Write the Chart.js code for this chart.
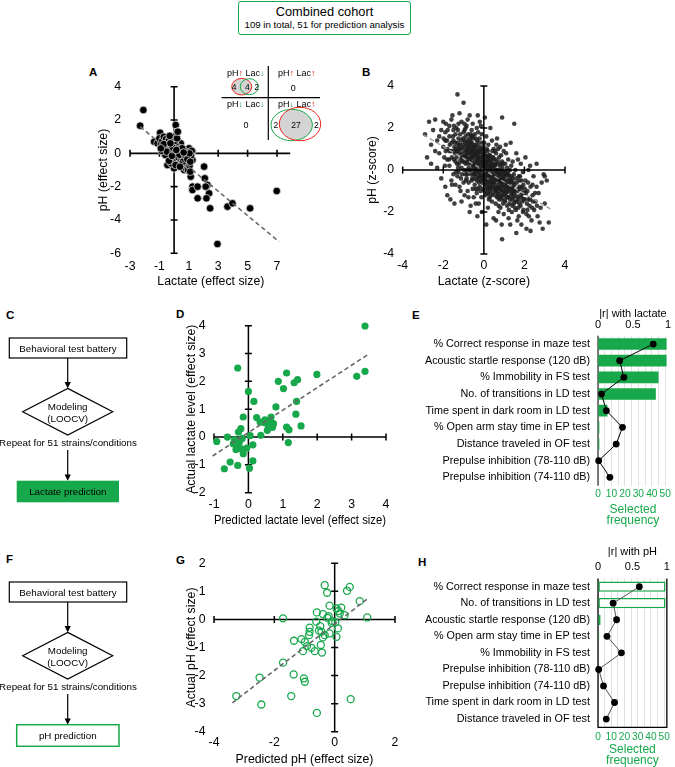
<!DOCTYPE html>
<html><head><meta charset="utf-8">
<title>Combined cohort</title>
<script src="https://cdn.jsdelivr.net/npm/chart.js@4.4.1/dist/chart.umd.min.js"></script>
<style>
html,body{margin:0;padding:0;background:#fff;}
body{width:675px;height:767px;position:relative;overflow:hidden;font-family:"Liberation Sans",Arial,Helvetica,sans-serif;color:#000;}
.pane{position:absolute;}
.pane canvas{display:block;}
.plabel{position:absolute;font-weight:bold;font-size:11.5px;line-height:12px;}
#titlebox{position:absolute;left:238px;top:1px;width:171px;height:32px;border:1.5px solid #17a84b;border-radius:3px;text-align:center;background:#fff;}
#titlebox .t1{font-size:12.8px;margin-top:3px;line-height:14px;}
#titlebox .t2{font-size:9.7px;line-height:12px;}
#overlay{position:absolute;left:0;top:0;pointer-events:none;}
</style></head><body>

<div id="titlebox"><div class="t1">Combined cohort</div><div class="t2">109 in total, 51 for prediction analysis</div></div>
<div class="plabel" style="left:89px;top:66px">A</div>
<div class="plabel" style="left:362px;top:66px">B</div>
<div class="plabel" style="left:6px;top:309px">C</div>
<div class="plabel" style="left:176px;top:308px">D</div>
<div class="plabel" style="left:412px;top:309px">E</div>
<div class="plabel" style="left:6px;top:553px">F</div>
<div class="plabel" style="left:176px;top:554px">G</div>
<div class="plabel" style="left:418px;top:556px">H</div>

<script>
// ---------------- DATA ----------------
// Panel A: lactate vs pH effect sizes (109 strains/conditions)
const pointsA = [
 [-2.09,2.6],[-2.31,1.66],[-1.36,0.7],[-0.95,1.24],[-1.13,0.6],[0.11,1.7],[0.23,1.3],[0.0,1.0],[0.45,0.6],[1.02,0.3],
 [1.25,0.1],[1.25,-0.4],[-0.45,-0.7],[0.0,-0.9],[0.68,-1.0],[1.13,-1.4],[1.25,-2.0],[1.25,-2.2],[1.6,-2.0],[1.6,-2.7],
 [2.04,-0.8],[2.09,-1.5],[2.27,-1.9],[2.15,-2.0],[2.38,-2.4],[2.2,-2.7],[2.45,-3.3],[3.63,-3.2],[3.97,-3.0],[5.17,-3.3],
 [6.98,-2.26],[2.95,-5.44],
 [-1.0,0.9],[-0.9,0.55],[-0.8,0.75],[-0.75,0.4],[-0.7,1.0],[-0.65,0.2],[-0.6,0.6],[-0.55,0.85],[-0.5,0.35],[-0.45,0.0],
 [-0.4,0.55],[-0.35,0.8],[-0.3,0.2],[-0.25,-0.2],[-0.2,0.45],[-0.15,0.1],[-0.1,0.7],[-0.05,-0.35],[0.0,0.25],[0.05,-0.1],
 [0.1,0.5],[0.15,-0.45],[0.2,0.05],[0.25,0.35],[0.3,-0.25],[0.35,-0.6],[0.4,0.0],[0.5,-0.4],[0.55,-0.1],[0.6,-0.75],
 [0.65,-0.3],[0.7,0.15],[0.75,-0.55],[0.8,-0.9],[0.85,-0.2],[0.9,-0.65],[0.95,-1.0],[1.0,-0.4],[1.05,-0.75],[1.1,-1.1],
 [1.15,-0.15],[1.2,0.15],[-0.45,-0.7],[-0.2,-0.6],[0.1,-0.7],[-0.6,-0.1],[-0.85,0.15],[-0.3,1.05],[0.2,0.9],[0.25,1.3],
 [-0.1,0.35],[0.3,0.25],[0.55,0.3],[0.6,-0.5],[-0.5,0.1],[0.35,-0.1],[0.75,-0.1],[0.9,-0.35],[1.05,0.0],[-0.7,0.55],
 [-0.35,-0.45],[0.4,-0.8],[-0.15,-0.15],[0.15,0.2],[-0.9,0.3],[0.65,0.05],[1.1,-0.5],[-0.25,0.6]
];
const fitA = [[-2.31,1.6],[7.14,-5.3]];
const xTicksA = [-3,-1,1,3,5,7];
const yTicksA = [4,2,0,-2,-4,-6];

// Panel B: individual animals, z-scores
const pointsB = [
 [-2.9,1.7],[-2.8,0.6],[-2.7,2.3],[-2.6,1.2],[-2.5,1.9],[-2.6,0.3],
 [-2.4,2.4],[-2.3,1.4],[-2.2,0.8],[-2.1,1.9],[-2.0,2.3],[-2.3,0.1],[-2.1,-0.4],[-2.0,1.1],[-2.4,0.9],[-2.2,1.6],
 [-1.9,1.8],[-1.8,0.5],[-1.7,2.1],[-1.6,1.3],[-1.5,-0.2],[-1.9,-0.8],[-1.8,1.0],[-1.7,0.2],[-1.6,2.4],[-1.5,0.9],
 [-1.9,1.4],[-1.8,-1.2],[-1.7,1.6],[-1.6,-0.5],[-1.5,1.9],[-1.95,0.6],[-1.65,-1.4],[-1.55,2.6],
 [-1.45,1.1],[-1.4,0.4],[-1.35,2.0],[-1.3,3.6],[-1.3,-0.3],[-1.25,1.5],[-1.2,0.8],[-1.15,-1.0],[-1.1,2.3],[-1.1,0.1],
 [-1.05,1.2],[-1.0,3.2],[-1.0,-0.6],[-1.45,-1.6],[-1.4,1.7],[-1.35,0.6],[-1.25,-0.1],[-1.2,2.7],[-1.15,1.0],[-1.05,0.4],
 [-1.0,1.8],[-1.3,1.3],[-1.2,-0.8],[-1.1,-1.5],[-1.4,-0.7],[-1.25,2.2],
 [-0.95,0.9],[-0.9,1.6],[-0.9,-0.2],[-0.85,2.1],[-0.8,0.5],[-0.8,-1.0],[-0.75,1.3],[-0.7,0.0],[-0.7,2.6],[-0.65,0.8],
 [-0.6,-0.5],[-0.6,1.9],[-0.55,0.3],[-0.5,1.1],[-0.5,-1.3],[-0.95,-1.2],[-0.9,0.3],[-0.85,1.2],[-0.8,2.4],[-0.75,-0.6],
 [-0.7,1.5],[-0.65,-1.7],[-0.6,0.6],[-0.55,2.2],[-0.5,-0.2],[-0.95,1.9],[-0.85,-0.4],[-0.75,0.8],[-0.65,1.7],[-0.55,-0.9],
 [-0.9,2.0],[-0.8,1.0],[-0.7,-2.0],[-0.6,1.3],[-0.52,0.6],
 [-0.45,0.7],[-0.45,-0.7],[-0.4,1.5],[-0.4,0.1],[-0.35,2.0],[-0.35,-1.1],[-0.3,0.9],[-0.3,-0.3],[-0.25,1.3],[-0.25,-1.6],
 [-0.2,0.4],[-0.2,2.3],[-0.15,-0.5],[-0.15,1.0],[-0.1,0.0],[-0.1,1.7],[-0.05,-0.9],[-0.05,0.6],[-0.48,1.2],[-0.42,-0.2],
 [-0.38,0.5],[-0.32,-2.2],[-0.28,1.8],[-0.22,-0.1],[-0.18,0.8],[-0.12,-1.3],[-0.08,1.3],[-0.02,0.2],[-0.3,2.6],[-0.2,-0.8],
 [-0.1,-2.0],[-0.4,-1.6],[-0.15,2.1],[-0.05,1.0],[-0.25,0.2],[-0.35,1.1],
 [0.02,-0.4],[0.05,0.9],[0.08,-1.2],[0.1,0.3],[0.12,1.6],[0.15,-0.7],[0.18,0.6],[0.2,-1.8],[0.22,1.2],[0.25,-0.2],
 [0.28,0.1],[0.3,-1.0],[0.32,2.0],[0.35,0.4],[0.38,-0.6],[0.4,-1.5],[0.42,0.9],[0.45,-0.3],[0.48,-2.3],[0.5,0.5],
 [0.05,2.5],[0.1,-0.1],[0.15,1.0],[0.2,0.0],[0.25,-1.4],[0.3,0.7],[0.35,-0.9],[0.4,1.4],[0.45,-0.8],[0.12,-2.6],
 [0.28,-0.5],[0.38,0.2],[0.02,1.3],[0.18,-0.9],[0.48,1.0],[0.08,0.5],
 [0.52,-0.9],[0.55,0.2],[0.58,-1.6],[0.6,0.8],[0.62,-0.4],[0.65,1.5],[0.68,-1.1],[0.7,0.0],[0.72,-2.0],[0.75,0.6],
 [0.78,-0.6],[0.8,1.1],[0.82,-1.3],[0.85,-0.1],[0.88,-2.6],[0.9,2.5],[0.9,0.4],[0.92,-0.8],[0.95,-1.6],[0.98,0.9],
 [0.55,-0.5],[0.6,-2.4],[0.65,-0.2],[0.7,1.0],[0.75,-1.4],[0.8,-0.3],[0.85,0.7],[0.9,-3.3],[0.95,-0.4],[0.58,0.5],
 [0.68,-0.8],[0.78,0.2],[0.88,-1.0],[0.98,-2.1],[0.62,1.2],[0.72,-0.5],[0.82,-1.8],[0.92,0.1],
 [1.02,-0.5],[1.05,0.3],[1.08,-1.2],[1.1,0.8],[1.12,-0.2],[1.15,-1.7],[1.18,-0.7],[1.2,0.5],[1.22,-2.3],[1.25,-1.0],
 [1.28,0.0],[1.3,-1.4],[1.32,1.3],[1.35,-0.5],[1.38,-2.0],[1.4,-0.9],[1.42,0.4],[1.45,-1.3],[1.48,-0.2],[1.05,-1.5],
 [1.1,-0.9],[1.15,0.1],[1.2,-1.3],[1.25,-0.3],[1.3,-2.6],[1.35,0.2],[1.4,-1.7],[1.45,-0.6],[1.5,2.2],[1.08,1.2],
 [1.18,-0.1],[1.28,-0.8],[1.38,-1.1],[1.48,-1.6],
 [1.52,-1.0],[1.55,0.0],[1.58,-1.9],[1.6,-3.0],[1.62,-0.6],[1.65,-1.3],[1.68,0.5],[1.7,-0.9],[1.72,-2.2],[1.75,-1.6],
 [1.78,-0.3],[1.8,-1.2],[1.82,0.3],[1.85,-2.6],[1.88,-0.8],[1.9,-1.5],[1.92,-0.1],[1.95,-1.9],[1.98,-1.1],[1.55,-1.5],
 [1.65,-2.4],[1.75,-0.5],[1.85,-1.3],[1.95,-0.7],[1.6,0.8],[1.7,-1.8],
 [2.02,-1.4],[2.05,-0.5],[2.1,-2.1],[2.15,-1.0],[2.2,0.0],[2.25,-1.7],[2.3,-0.8],[2.35,-2.4],[2.4,-1.2],[2.45,-0.3],
 [2.48,-1.9],[2.1,-2.8],[2.2,-1.4],[2.3,-2.9],[2.4,-0.7],[2.05,0.6],[2.15,-1.9],[2.28,0.2],
 [2.55,-1.5],[2.6,-0.8],[2.65,-2.2],[2.7,-1.1],[2.8,-1.8],[2.9,-2.8],[2.95,-0.2],[3.0,-1.6],[3.2,-2.5],[3.1,-0.5],
 [3.0,-0.3],[2.75,-2.5],[2.85,-0.6],[2.6,0.3],
 [-0.9,0.7],[-0.8,1.4],[-0.7,0.4],[-0.6,0.9],[-0.5,0.2],[-0.4,0.9],[-0.3,0.4],[-0.2,1.1],[-0.1,0.4],[0.0,0.8],
 [0.1,-0.5],[0.2,0.4],[0.3,-0.3],[0.4,0.6],[0.5,-0.6],[0.6,0.0],[0.7,-0.9],[0.8,-0.5],[0.9,-1.2],[1.0,-0.2],
 [-0.85,0.0],[-0.65,1.1],[-0.45,1.7],[-0.25,0.6],[-0.05,-0.3],[0.15,0.2],[0.35,-1.2],[0.55,0.9],[0.75,-0.2],[0.95,-0.6],
 [-1.1,0.6],[-0.95,1.4],[-0.75,0.1],[-0.55,1.5],[-0.35,-0.5],[-0.15,0.3],[0.05,-0.7],[0.25,0.7],[0.45,0.1],[0.65,-1.3],
 [0.85,0.3],[1.05,-1.1],[1.25,-0.6],[1.45,-1.0],[-1.3,0.9],[-1.5,1.4],[-1.7,0.9],[-0.3,-0.9],[0.2,-1.1],[0.6,-1.0],
 [-1.48,0.5],[-1.42,1.3],[-1.38,-0.1],[-1.33,0.9],[-1.28,1.9],[-1.23,0.3],[-1.18,1.2],[-1.13,-0.4],[-1.08,0.8],[-1.03,1.5],
 [-1.47,2.1],[-1.37,1.0],[-1.27,0.1],[-1.17,1.7],[-1.07,-0.2],[-1.02,0.6],[-1.12,1.4],[-1.22,1.0],[-1.32,0.3],[-1.42,0.8],
 [-0.98,0.4],[-0.93,1.1],[-0.88,-0.5],[-0.83,0.8],[-0.78,1.7],[-0.73,0.3],[-0.68,1.2],[-0.63,-0.2],[-0.58,0.7],[-0.53,1.6],
 [-0.97,0.0],[-0.92,1.3],[-0.87,0.6],[-0.82,-0.2],[-0.77,1.1],[-0.72,0.6],[-0.67,0.0],[-0.62,1.6],[-0.57,-0.4],[-0.52,0.9],
 [-0.96,2.2],[-0.86,0.9],[-0.76,-1.3],[-0.66,0.4],[-0.56,1.0],
 [-0.49,0.0],[-0.46,1.0],[-0.43,0.3],[-0.41,-0.9],[-0.37,0.7],[-0.34,1.4],[-0.31,-0.1],[-0.27,0.5],[-0.24,-0.6],[-0.21,1.5],
 [-0.17,0.1],[-0.14,-0.3],[-0.11,0.9],[-0.07,-0.6],[-0.04,0.3],[-0.01,1.1],[-0.47,0.4],[-0.44,-0.4],[-0.36,0.0],[-0.29,0.6],
 [-0.26,-0.4],[-0.19,-0.3],[-0.13,0.6],[-0.09,-0.4],[-0.03,0.7],[-0.33,0.8],[-0.23,0.9],[-0.16,-1.0],[-0.06,0.1],[-0.39,1.2],
 [0.01,0.1],[0.04,-0.2],[0.07,0.7],[0.11,-0.3],[0.14,0.4],[0.17,-1.1],[0.21,0.2],[0.24,-0.6],[0.27,0.5],[0.31,-0.8],
 [0.34,0.0],[0.37,-0.4],[0.41,0.3],[0.44,-1.1],[0.47,-0.1],[0.03,-1.0],[0.09,0.1],[0.13,-0.6],[0.19,0.9],[0.23,-0.3],
 [0.29,-1.3],[0.33,0.5],[0.39,-0.2],[0.43,-0.6],[0.49,0.2],[0.06,0.4],[0.16,-0.2],[0.26,0.3],[0.36,-0.7],[0.46,0.6],
 [0.51,-0.3],[0.54,-1.2],[0.57,0.0],[0.61,-0.7],[0.64,0.3],[0.67,-0.4],[0.71,-1.3],[0.74,-0.1],[0.77,-0.9],[0.81,0.0],
 [0.84,-0.7],[0.87,-1.4],[0.91,-0.4],[0.94,0.3],[0.97,-1.0],[0.53,0.3],[0.59,-1.0],[0.63,-0.1],[0.69,0.4],[0.73,-1.7],
 [0.79,-0.8],[0.83,-0.2],[0.89,-0.6],[0.93,-1.2],[0.99,-0.1],
 [1.01,-0.8],[1.04,-1.4],[1.07,-0.3],[1.11,-1.0],[1.14,-0.5],[1.17,-1.3],[1.21,-0.2],[1.24,-0.8],[1.27,-1.6],[1.31,-0.6],
 [1.34,-1.2],[1.37,-0.3],[1.41,-1.4],[1.44,-0.8],[1.47,-1.1],[1.03,-0.1],[1.13,-0.8],[1.23,-1.9],[1.33,-0.9],[1.43,-0.4],
 [1.51,-0.7],[1.56,-1.2],[1.61,-0.4],[1.66,-1.0],[1.71,-1.4],[1.76,-0.8],[1.81,-1.7],[1.86,-0.5],[1.91,-1.1],[1.96,-1.4],
 [1.53,-1.8],[1.63,-1.5],[1.73,-0.3],[1.83,-0.9],[1.93,-2.0],
 [-1.98,1.5],[-1.88,0.9],[-1.78,1.9],[-1.68,1.2],[-1.58,0.6],[-1.52,1.6],[-1.62,0.9],[-1.72,0.5],[-1.82,1.4],[-1.92,0.2],
 [-1.57,-0.7],[-1.87,2.2],
 [2.08,-1.1],[2.18,-0.6],[2.28,-1.4],[2.38,-1.8],[2.12,-1.6],[2.22,-2.2],[2.42,-1.5],[2.52,-1.1],[2.62,-1.7],[2.02,-0.9],
 [-1.16,0.45],[-1.06,1.05],[-0.94,0.65],[-0.84,0.35],[-0.74,0.95],[-0.64,0.55],[-0.54,0.15],[-0.44,0.75],[-0.34,0.25],[-0.24,0.85],
 [-0.14,-0.15],[-0.04,0.45],[0.06,-0.45],[0.16,0.65],[0.26,-0.85],[0.36,0.15],[0.46,-0.45],[0.56,-0.85],[0.66,-0.05],[0.76,-0.45],
 [0.86,-0.95],[0.96,-0.25],[1.06,-0.65],[1.16,-1.05],[1.26,-0.45],[-1.26,1.15],[-0.66,1.35],[-0.46,-0.15],[0.14,-0.85],[0.74,-1.15]
];
const fitB = [[-2.98,1.67],[3.36,-1.9]];
const xTicksB = [-4,-2,0,2,4];
const yTicksB = [4,2,0,-2,-4];

// Panel D: predicted vs actual lactate (51 strains/conditions)
const pointsD = [
 [3.39,3.99],[3.39,2.36],[3.15,2.18],[1.99,2.25],[1.11,2.30],[0.87,2.0],[1.02,1.74],[1.33,1.95],[1.43,2.06],[-0.31,2.48],
 [0,1.64],[0.16,1.28],[1.40,1.28],[0.80,1.08],[1.38,0.82],[1.53,0.40],[1.11,0.36],[1.18,0.26],[1.16,-0.20],[-0.15,0.72],
 [0.24,0.70],[0.34,0.54],[0.48,0.62],[0.63,0.60],[0.73,0.48],[0.58,0.38],[0.55,0.24],[0.36,0.06],[-0.22,0.30],[-0.29,0.18],
 [-0.61,0.0],[-0.92,-0.16],[-0.44,-0.24],[-0.34,-0.30],[-0.26,-0.18],[-0.22,-0.42],[-0.15,-0.60],[-0.05,-0.40],[0.13,-0.28],[-0.53,-0.90],
 [-0.31,-1.02],[-0.70,-1.14],[0.03,-1.12],[0.13,-0.86],[-0.40,-0.10],[0.66,0.72],[-0.18,-0.05],[0.45,0.52],[-0.36,-0.45],[0.05,0.05],
 [0.70,0.35]
];
const fitD = [[-1.04,-0.68],[3.52,3.0]];
const xTicksD = [-1,0,1,2,3,4];
const yTicksD = [4,3,2,1,0,-1,-2];

// Panel G: predicted vs actual pH (51 strains/conditions)
const pointsG = [
 [-0.33,1.22],[-0.25,0.95],[0.41,1.02],[0.50,1.16],[0.83,0.65],[1.08,0.07],[-0.17,0.49],[-0.59,0.25],[-0.39,0.19],[0.06,0.39],
 [0.22,0.42],[0.17,0.21],[0.33,0.15],[-0.24,0.06],[-0.08,-0.06],[-0.61,-0.08],[-0.48,-0.24],[0.11,-0.32],[-0.83,-0.29],[-0.83,-0.44],
 [-0.85,-0.56],[-0.44,-0.44],[-0.33,-0.56],[-0.39,-0.64],[-0.17,-0.50],[0.06,-0.62],[-1.71,0.04],[-1.10,-0.70],[-0.99,-0.80],[-1.35,-0.76],
 [-0.92,-0.95],[-0.77,-1.01],[-1.05,-1.13],[-0.66,-1.13],[-0.46,-0.91],[-0.42,-1.18],[-1.71,-1.54],[-1.36,-1.96],[-1.02,-2.10],[-0.99,-2.22],
 [-2.49,-2.07],[-3.26,-2.73],[-2.43,-3.03],[-1.44,-2.73],[-0.59,-3.33],[0.53,-2.84],[-0.10,-0.12],[0.02,-0.10],[-0.52,-0.40],[0.12,0.30],
 [-0.20,0.12]
];
const fitG = [[-3.39,-2.97],[1.14,0.78]];
const xTicksG = [-4,-2,0,2];
const yTicksG = [2,1,0,-1,-2,-3,-4];

// Panel E: behavioural features for lactate prediction
const labelsE = ['% Correct response in maze test','Acoustic startle response (120 dB)','% Immobility in FS test',
 'No. of transitions in LD test','Time spent in dark room in LD test','% Open arm stay time in EP test',
 'Distance traveled in OF test','Prepulse inhibition (78-110 dB)','Prepulse inhibition (74-110 dB)'];
const freqE = [51,51,45,43,7,1,1,0,0];
const rE = [0.79,0.31,0.37,0.05,0.12,0.35,0.26,0.01,0.17];

// Panel H: behavioural features for pH prediction
const labelsH = ['% Correct response in maze test','No. of transitions in LD test','Acoustic startle response (120 dB)',
 '% Open arm stay time in EP test','% Immobility in FS test','Prepulse inhibition (78-110 dB)',
 'Prepulse inhibition (74-110 dB)','Time spent in dark room in LD test','Distance traveled in OF test'];
const freqH = [51,51,2,1,0,0,0,0,0];
const rH = [0.60,0.22,0.27,0.13,0.34,0.01,0.08,0.24,0.12];

const rTicks = [0,0.5,1];
const freqTicks = [0,5,10,15,20,25,30,35,40,45,50];

// ---------------- DRAWING ----------------
const GREEN = '#17a84b';
const FONT = '"Liberation Sans", Arial, Helvetica, sans-serif';
Chart.defaults.font.family = FONT;
Chart.defaults.color = '#000';

function pane(left, top, w, h){
  const d = document.createElement('div');
  d.className = 'pane';
  d.style.cssText = 'left:'+left+'px;top:'+top+'px;width:'+w+'px;height:'+h+'px;';
  const c = document.createElement('canvas');
  d.appendChild(c);
  document.body.appendChild(d);
  return c;
}

function makeCross(cfg){
  const draw = function(chart){
    const ctx = chart.ctx, xs = chart.scales.x, ys = chart.scales.y;
    const X = v => xs.getPixelForValue(v), Y = v => ys.getPixelForValue(v);
    ctx.save();
    ctx.strokeStyle = '#000'; ctx.lineWidth = cfg.lw; ctx.lineCap = 'butt';
    ctx.beginPath();
    ctx.moveTo(X(cfg.xFrom), Y(0)); ctx.lineTo(X(cfg.xTo), Y(0));
    ctx.moveTo(X(0), Y(cfg.yFrom)); ctx.lineTo(X(0), Y(cfg.yTo));
    cfg.xMarks.forEach(v => { ctx.moveTo(X(v), Y(0)-cfg.tl); ctx.lineTo(X(v), Y(0)+cfg.tl); });
    cfg.yMarks.forEach(v => { ctx.moveTo(X(0)-cfg.tl, Y(v)); ctx.lineTo(X(0)+cfg.tl, Y(v)); });
    ctx.stroke();
    ctx.restore();
  };
  const p = {id:'crossAxes'};
  if (cfg.onTop) p.afterDatasetsDraw = draw; else p.beforeDatasetsDraw = draw;
  return p;
}

function makeFrame(cfg){
  return {id:'frame', beforeDatasetsDraw(chart){
    const a = chart.chartArea, c = chart.ctx;
    c.save(); c.strokeStyle = '#000'; c.lineWidth = cfg.lw; c.beginPath();
    if (cfg.left){ c.moveTo(a.left, a.top); c.lineTo(a.left, a.bottom); }
    if (cfg.right){ c.moveTo(a.right, a.top); c.lineTo(a.right, a.bottom); }
    if (cfg.bottom){ c.moveTo(a.left-cfg.lw/2, a.bottom); c.lineTo(a.right+cfg.lw/2, a.bottom); }
    c.stroke(); c.restore();
  }};
}

function scatterPanel(p){
  const cv = pane(p.left, p.top, p.w, p.h);
  const f = {size:12.3, family:FONT};
  return new Chart(cv, {
    type:'scatter',
    data:{datasets:[
      {type:'line', data:p.fit.map(a => ({x:a[0], y:a[1]})), borderColor:p.fitColor, borderWidth:p.fitWidth,
       borderDash:[4.5,3], pointRadius:0, fill:false, clip:false},
      {type:'scatter', data:p.pts.map(a => ({x:a[0], y:a[1]})), pointRadius:p.r, pointHoverRadius:p.r,
       backgroundColor:p.fill, borderColor:p.stroke, borderWidth:p.bw, clip:false}
    ]},
    options:{
      responsive:true, maintainAspectRatio:false, animation:false, events:[],
      layout:{padding:{top:p.padTop, right:p.padRight, left:0, bottom:0}},
      plugins:{legend:{display:false}, tooltip:{enabled:false}},
      scales:{
        x:{type:'linear', min:p.xr[0], max:p.xr[1],
          grid:{display:false, drawTicks:false}, border:{display:false},
          afterBuildTicks:s => { s.ticks = p.xTicks.map(v => ({value:v})); },
          afterFit:s => { s.height = p.xH; },
          ticks:{font:f, color:'#000', padding:p.xTickPad, maxRotation:0, minRotation:0, autoSkip:false, callback:v => String(v)},
          title:{display:true, text:p.xTitle, font:f, color:'#000', padding:{top:0, bottom:p.xTitlePad}}},
        y:{type:'linear', min:p.yr[0], max:p.yr[1],
          grid:{display:false, drawTicks:false}, border:{display:false},
          afterBuildTicks:s => { s.ticks = p.yTicks.map(v => ({value:v})); },
          afterFit:s => { s.width = p.yW; },
          ticks:{font:f, color:'#000', padding:p.yTickPad, autoSkip:false, callback:v => String(v)},
          title:{display:true, text:p.yTitle, font:f, color:'#000', padding:{top:p.yTitlePad, bottom:0}}}
      }
    },
    plugins:[makeCross(p.cross)]
  });
}

function barPanel(p){
  const cv = pane(415, p.top, 260, 227);
  return new Chart(cv, {
    type:'bar',
    data:{labels:p.labels, datasets:[
      {type:'line', data:p.r, xAxisID:'xTop', yAxisID:'y', indexAxis:'y', borderColor:p.lineColor, borderWidth:1,
       pointRadius:3.4, pointHoverRadius:3.4, pointBackgroundColor:'#000', pointBorderColor:'#000', pointBorderWidth:0,
       fill:false, tension:0, clip:false},
      {type:'bar', data:p.freq, xAxisID:'x', yAxisID:'y', backgroundColor:p.barFill, borderColor:GREEN,
       borderWidth:ctx => (ctx.raw > 0 ? p.barBW : 0), borderSkipped:false, barPercentage:p.bp, categoryPercentage:1}
    ]},
    options:{
      indexAxis:'y', responsive:true, maintainAspectRatio:false, animation:false, events:[],
      layout:{padding:{top:0, right:5, left:0, bottom:0}},
      plugins:{legend:{display:false}, tooltip:{enabled:false}},
      scales:{
        y:{type:'category', axis:'y', position:'left', offset:true, grid:{display:false, drawTicks:false}, border:{display:false},
          ticks:{font:{size:10.8, family:FONT}, color:'#000', padding:8, autoSkip:false},
          afterFit:s => { s.width = 183; }},
        x:{type:'linear', axis:'x', position:'bottom', min:0, max:52,
          afterBuildTicks:s => { s.ticks = freqTicks.map(v => ({value:v})); },
          grid:{color:'#d9d9d9', lineWidth:0.8, drawTicks:false}, border:{display:false},
          ticks:{font:{size:10.2, family:FONT}, color:GREEN, padding:p.btPad, autoSkip:false, maxRotation:0,
            callback:v => (v % 10 === 0 ? String(v) : '')},
          title:{display:true, text:['Selected','frequency'], color:GREEN, font:{size:12, family:FONT, lineHeight:0.96},
            padding:{top:0, bottom:0.3}},
          afterFit:s => { s.height = p.bH; }},
        xTop:{type:'linear', axis:'x', position:'top', min:0, max:1,
          afterBuildTicks:s => { s.ticks = rTicks.map(v => ({value:v})); },
          grid:{display:false, drawTicks:false}, border:{display:false},
          ticks:{font:{size:11, family:FONT}, color:'#000', padding:p.ttPad, autoSkip:false, maxRotation:0, callback:v => String(v)},
          title:{display:true, text:p.rTitle, color:'#000', font:{size:11, family:FONT}, padding:{top:p.tTitlePad, bottom:0}},
          afterFit:s => { s.height = p.tH; }}
      }
    },
    plugins:[makeFrame(p.frame)]
  });
}

// A
scatterPanel({left:85, top:60, w:240, h:240, padTop:26.7, padRight:33.3, xH:46.7, yW:45,
  xr:[-3,8], yr:[-6,4], xTicks:xTicksA, yTicks:yTicksA,
  xTickPad:6, xTitlePad:10.9, yTickPad:9, yTitlePad:10.9,
  xTitle:'Lactate (effect size)', yTitle:'pH (effect size)',
  pts:pointsA, fit:fitA, fitColor:'#6b6b6b', fitWidth:1.6,
  r:3.8, fill:'#000', stroke:'rgba(235,235,235,0.9)', bw:0.8,
  cross:{onTop:false, lw:1.6, tl:3.5, xFrom:-3, xTo:7.9, yFrom:-6, yTo:4, xMarks:[-3,-1,1,3,5,7], yMarks:[4,2,-2,-4,-6]}});

// B
scatterPanel({left:360, top:60, w:230, h:240, padTop:26, padRight:25, xH:46, yW:42.7,
  xr:[-4,4], yr:[-4,4], xTicks:xTicksB, yTicks:yTicksB,
  xTickPad:4.6, xTitlePad:10.6, yTickPad:8.5, yTitlePad:5.6,
  xTitle:'Lactate (z-score)', yTitle:'pH (z-score)',
  pts:pointsB, fit:fitB, fitColor:'#a0a0a0', fitWidth:1.4,
  r:2.3, fill:'rgba(30,30,30,0.85)', stroke:'rgba(0,0,0,0)', bw:0,
  cross:{onTop:true, lw:1.5, tl:3.5, xFrom:-4, xTo:4, yFrom:-4, yTo:4, xMarks:[-4,-2,2,4], yMarks:[4,2,-2,-4]}});

// D
scatterPanel({left:183, top:300, w:220, h:230, padTop:25.7, padRight:17, xH:37.3, yW:31,
  xr:[-1,4], yr:[-2,4], xTicks:xTicksD, yTicks:yTicksD,
  xTickPad:5, xTitlePad:1.6, yTickPad:8.5, yTitlePad:1.3,
  xTitle:'Predicted lactate level (effect size)', yTitle:'Actual lactate level (effect size)',
  pts:pointsD, fit:fitD, fitColor:'#666666', fitWidth:1.6,
  r:3.6, fill:GREEN, stroke:GREEN, bw:0,
  cross:{onTop:false, lw:1.5, tl:3.5, xFrom:-1, xTo:4, yFrom:-2, yTo:4, xMarks:[-1,1,2,3,4], yMarks:[4,3,2,1,-1,-2]}});

// G
scatterPanel({left:183, top:540, w:220, h:227, padTop:23.3, padRight:8, xH:35.3, yW:31,
  xr:[-4,2], yr:[-4,2], xTicks:xTicksG, yTicks:yTicksG,
  xTickPad:3.6, xTitlePad:0.3, yTickPad:8.5, yTitlePad:1.3,
  xTitle:'Predicted pH (effect size)', yTitle:'Actual pH (effect size)',
  pts:pointsG, fit:fitG, fitColor:'#666666', fitWidth:1.6,
  r:3.5, fill:'rgba(255,255,255,0)', stroke:GREEN, bw:1.3,
  cross:{onTop:false, lw:1.5, tl:3.5, xFrom:-4, xTo:2, yFrom:-4, yTo:2, xMarks:[-4,-2,2], yMarks:[2,1,-1,-2,-3,-4]}});

// E
barPanel({top:300, labels:labelsE, freq:freqE, r:rE, rTitle:'|r| with lactate', lineColor:'#000',
  barFill:GREEN, barBW:0, bp:0.7, tH:35.7, bH:41.3, tTitlePad:7.4, ttPad:4, btPad:2.3,
  frame:{lw:1, left:true, right:false, bottom:false}});

// H
barPanel({top:540, labels:labelsH, freq:freqH, r:rH, rTitle:'|r| with pH', lineColor:'#555',
  barFill:'#fff', barBW:1.5, bp:0.62, tH:38.4, bH:39.7, tTitlePad:5.4, ttPad:5.1, btPad:4.1,
  frame:{lw:1.3, left:true, right:true, bottom:true}});
</script>

<svg id="overlay" width="675" height="767" viewBox="0 0 675 767" font-family="Liberation Sans, Arial, Helvetica, sans-serif">
 <defs>
  <clipPath id="clipGreen"><ellipse cx="291.7" cy="125" rx="20.7" ry="15.7"/></clipPath>
 </defs>
 <!-- Venn inset of panel A -->
 <g>
  <line x1="268.3" y1="66" x2="268.3" y2="140" stroke="#000" stroke-width="1.2"/>
  <line x1="221.7" y1="97.7" x2="320" y2="97.7" stroke="#000" stroke-width="1.2"/>
  <text x="227" y="75.5" font-size="9">pH<tspan fill="#e8261c">↑</tspan> Lac<tspan fill="#17a84b">↓</tspan></text>
  <text x="278" y="75.5" font-size="9">pH<tspan fill="#e8261c">↑</tspan> Lac<tspan fill="#e8261c">↑</tspan></text>
  <text x="227" y="106.5" font-size="9">pH<tspan fill="#17a84b">↓</tspan> Lac<tspan fill="#17a84b">↓</tspan></text>
  <text x="278" y="106.5" font-size="9">pH<tspan fill="#17a84b">↓</tspan> Lac<tspan fill="#e8261c">↑</tspan></text>
  <ellipse cx="241.7" cy="86.7" rx="10" ry="8.3" fill="#d4d4d4" stroke="#e8261c" stroke-width="1"/>
  <ellipse cx="249.3" cy="86.7" rx="9" ry="8" fill="none" stroke="#17a84b" stroke-width="1"/>
  <text x="234" y="89.8" font-size="8.5" text-anchor="middle">4</text>
  <text x="247.3" y="89.8" font-size="8.5" text-anchor="middle">4</text>
  <text x="256.6" y="89.8" font-size="8.5" text-anchor="middle">2</text>
  <text x="293.3" y="90.5" font-size="9" text-anchor="middle">0</text>
  <text x="246" y="128.2" font-size="9" text-anchor="middle">0</text>
  <ellipse cx="300" cy="124" rx="20.7" ry="16.7" fill="#d4d4d4" clip-path="url(#clipGreen)"/>
  <ellipse cx="291.7" cy="125" rx="20.7" ry="15.7" fill="none" stroke="#17a84b" stroke-width="1"/>
  <ellipse cx="300" cy="124" rx="20.7" ry="16.7" fill="none" stroke="#e8261c" stroke-width="1"/>
  <text x="275.8" y="128.2" font-size="8.5" text-anchor="middle">2</text>
  <text x="296" y="128.2" font-size="8.5" text-anchor="middle">27</text>
  <text x="316.4" y="128.2" font-size="8.5" text-anchor="middle">2</text>
 </g>
 <!-- Flowchart C -->
 <g font-size="9.8" text-anchor="middle">
  <rect x="9.3" y="338" width="117.4" height="20" fill="#fff" stroke="#000" stroke-width="1.2"/>
  <text x="68" y="351.6">Behavioral test battery</text>
  <line x1="67.7" y1="358" x2="67.7" y2="383" stroke="#000" stroke-width="1.2"/>
  <polygon points="64.6,382 70.8,382 67.7,388.4" fill="#000"/>
  <polygon points="67.7,388.4 112.7,411.7 67.7,435 22.7,411.7" fill="#fff" stroke="#000" stroke-width="1.2"/>
  <text x="67.7" y="410.2">Modeling</text>
  <text x="67.7" y="421.8">(LOOCV)</text>
  <text x="68" y="446.2">Repeat for 51 strains/conditions</text>
  <line x1="67.7" y1="450" x2="67.7" y2="475" stroke="#000" stroke-width="1.2"/>
  <polygon points="64.6,474.5 70.8,474.5 67.7,480.7" fill="#000"/>
  <rect x="16.7" y="480.7" width="102.3" height="21.6" fill="#17a84b"/>
  <text x="67.8" y="494.7">Lactate prediction</text>
 </g>
 <!-- Flowchart F -->
 <g font-size="9.8" text-anchor="middle" transform="translate(0,244)">
  <rect x="9.3" y="338" width="117.4" height="20" fill="#fff" stroke="#000" stroke-width="1.2"/>
  <text x="68" y="351.6">Behavioral test battery</text>
  <line x1="67.7" y1="358" x2="67.7" y2="383" stroke="#000" stroke-width="1.2"/>
  <polygon points="64.6,382 70.8,382 67.7,388.4" fill="#000"/>
  <polygon points="67.7,388.4 112.7,411.7 67.7,435 22.7,411.7" fill="#fff" stroke="#000" stroke-width="1.2"/>
  <text x="67.7" y="410.2">Modeling</text>
  <text x="67.7" y="421.8">(LOOCV)</text>
  <text x="68" y="446.2">Repeat for 51 strains/conditions</text>
  <line x1="67.7" y1="450" x2="67.7" y2="475" stroke="#000" stroke-width="1.2"/>
  <polygon points="64.6,474.5 70.8,474.5 67.7,480.7" fill="#000"/>
  <rect x="16.7" y="480.7" width="102.3" height="21.6" fill="#fff" stroke="#17a84b" stroke-width="1.5"/>
  <text x="67.8" y="494.7">pH prediction</text>
 </g>
</svg>
</body></html>
